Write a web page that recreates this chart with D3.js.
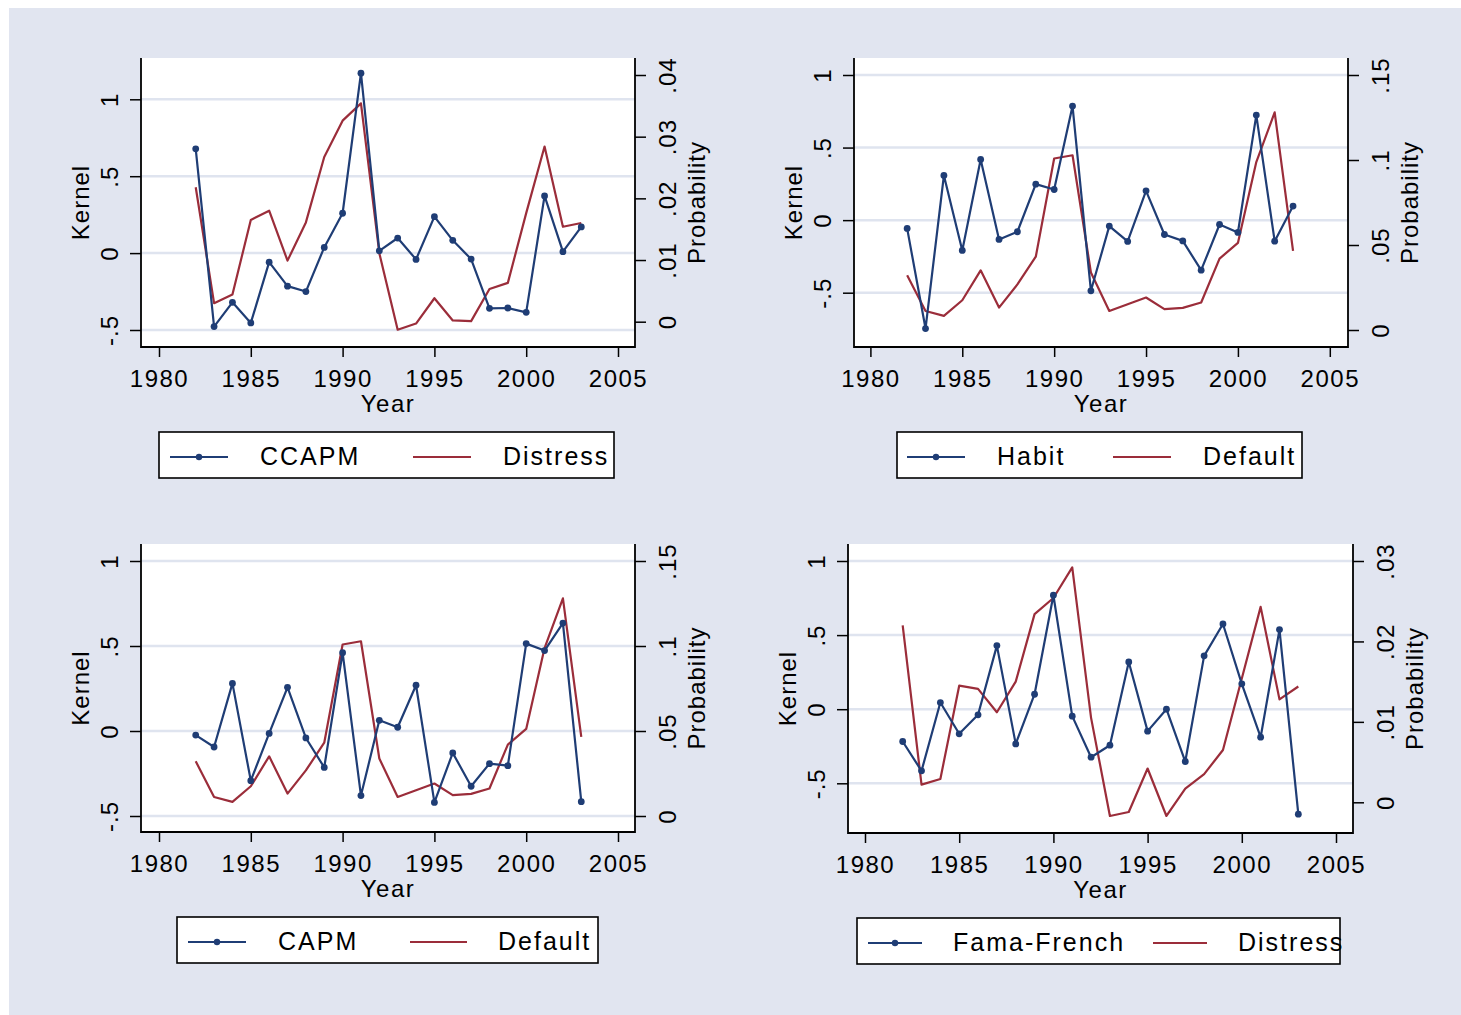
<!DOCTYPE html>
<html><head><meta charset="utf-8">
<script src="https://cdn.jsdelivr.net/npm/d3@7"></script>
<style>
body{margin:0;background:#fff}
text{font-family:"Liberation Sans",Arial,sans-serif;fill:#000}
</style>
</head><body>
<svg id="c" width="1461" height="1015"></svg>
<script>
// ---------- data ----------
const years = [1982,1983,1984,1985,1986,1987,1988,1989,1990,1991,1992,1993,1994,1995,1996,1997,1998,1999,2000,2001,2002,2003];
const xTicks = [1980,1985,1990,1995,2000,2005];
const kernelTicks = [-0.5,0,0.5,1];
const probTicksA = [0,0.01,0.02,0.03,0.04];
const probTicksB = [0,0.05,0.1,0.15];
const probTicksC = [0,0.01,0.02,0.03];

const ccapm = [0.678,-0.478,-0.32,-0.454,-0.059,-0.215,-0.25,0.037,0.259,1.17,0.015,0.098,-0.041,0.237,0.083,-0.039,-0.359,-0.357,-0.385,0.372,0.009,0.17];
const distressA = [0.0218,0.0030,0.0044,0.0165,0.0180,0.0099,0.0161,0.0267,0.0326,0.0354,0.0111,-0.0013,-0.0003,0.0038,0.0002,0.0001,0.0053,0.0063,0.0176,0.0284,0.0154,0.0160];

const habit = [-0.057,-0.747,0.308,-0.209,0.418,-0.133,-0.080,0.248,0.211,0.786,-0.487,-0.041,-0.147,0.202,-0.099,-0.143,-0.345,-0.030,-0.085,0.724,-0.145,0.097];
const defaultProb = [0.0322,0.0112,0.0083,0.0175,0.0351,0.0132,0.0268,0.0431,0.1009,0.1028,0.0338,0.0112,0.0152,0.0191,0.0123,0.0130,0.0162,0.0420,0.0512,0.0988,0.1280,0.0466];

const capm = [-0.024,-0.094,0.280,-0.292,-0.014,0.257,-0.041,-0.214,0.461,-0.380,0.063,0.022,0.269,-0.420,-0.129,-0.325,-0.192,-0.204,0.514,0.473,0.635,-0.416];

const famaFrench = [-0.218,-0.416,0.045,-0.166,-0.038,0.429,-0.234,0.101,0.769,-0.047,-0.324,-0.243,0.319,-0.148,0.0,-0.353,0.36,0.575,0.171,-0.189,0.537,-0.708];
const distressB = [0.0220,0.0022,0.0029,0.0145,0.0141,0.0112,0.0150,0.0234,0.0254,0.0292,0.0105,-0.0017,-0.0012,0.0042,-0.0017,0.0017,0.0035,0.0065,0.0154,0.0243,0.0128,0.0144];

const kernelNames = ["CCAPM","Habit","CAPM","Fama-French"];
const probNames = ["Distress","Default","Default","Distress"];

// ---------- styling / layout ----------
const BLUE = "#1f3d75", RED = "#9b2d3a", GRID = "#dfe4ef", BG = "#e1e5f0";
const FONT = 24;

const panels = [
  {k:ccapm, p:distressA, pt:probTicksA, pTop:0.04, L:141,R:635,T:58,B:347, x0:159,x1:618, k1:99.3,kN:330, pTopY:75, p0Y:321.7,
   lg:{L:159,W:455,a:[170,228],ta:260,b:[413,471],tb:503}},
  {k:habit, p:defaultProb, pt:probTicksB, pTop:0.15, L:854,R:1348,T:58,B:347, x0:870.4,x1:1329.8, k1:75,kN:292.7, pTopY:75, p0Y:330,
   lg:{L:897,W:405,a:[907,965],ta:997,b:[1113,1171],tb:1203}},
  {k:capm, p:defaultProb, pt:probTicksB, pTop:0.15, L:141,R:635,T:544,B:832, x0:159,x1:618, k1:561,kN:816, pTopY:561, p0Y:816,
   lg:{L:177,W:421,a:[188,246],ta:278,b:[410,467],tb:498}},
  {k:famaFrench, p:distressB, pt:probTicksC, pTop:0.03, L:848,R:1353,T:544,B:833, x0:865,x1:1336, k1:561,kN:783.3, pTopY:561, p0Y:802.3,
   lg:{L:857,W:483,a:[868,922],ta:953,b:[1153,1207],tb:1238}}
];

const fmt = v => v === 0 ? "0" : String(+v.toFixed(4)).replace("0.", ".");

const svg = d3.select("#c");
svg.append("rect").attr("x",9).attr("y",8).attr("width",1461-9).attr("height",1015-8).attr("fill",BG);

panels.forEach((P, i) => {
  const g = svg.append("g");
  const x = d3.scaleLinear().domain([1980,2005]).range([P.x0,P.x1]);
  const yk = d3.scaleLinear().domain([-0.5,1]).range([P.kN,P.k1]);
  const yp = d3.scaleLinear().domain([0,P.pTop]).range([P.p0Y,P.pTopY]);

  g.append("rect").attr("x",P.L).attr("y",P.T).attr("width",P.R-P.L).attr("height",P.B-P.T).attr("fill","#fff");

  // gridlines
  g.selectAll(".grid").data(kernelTicks).enter().append("line")
    .attr("x1",P.L).attr("x2",P.R).attr("y1",d=>yk(d)).attr("y2",d=>yk(d))
    .attr("stroke",GRID).attr("stroke-width",2.5);

  // axes
  const styleAxis = sel => {
    sel.attr("font-size",FONT).attr("font-family",'"Liberation Sans",Arial,sans-serif');
    sel.select(".domain").remove();
    sel.selectAll(".tick line").attr("stroke","#000").attr("stroke-width",1.5);
    sel.selectAll(".tick text").attr("fill","#000");
  };

  const ax = g.append("g").attr("transform",`translate(0,${P.B})`)
    .call(d3.axisBottom(x).tickValues(xTicks).tickSize(10).tickFormat(d3.format("d")));
  styleAxis(ax);
  ax.selectAll(".tick text").attr("y",23).attr("dy","0.71em").attr("letter-spacing","1.5px");

  const al = g.append("g").attr("transform",`translate(${P.L},0)`)
    .call(d3.axisLeft(yk).tickValues(kernelTicks).tickSize(11).tickFormat(fmt));
  styleAxis(al);
  al.selectAll(".tick text").attr("x",null).attr("dy","0.36em").attr("text-anchor","middle")
    .attr("transform","translate(-32,0) rotate(-90)").attr("letter-spacing","1px");

  const ar = g.append("g").attr("transform",`translate(${P.R},0)`)
    .call(d3.axisRight(yp).tickValues(P.pt).tickSize(11).tickFormat(fmt));
  styleAxis(ar);
  ar.selectAll(".tick text").attr("x",null).attr("dy","0.36em").attr("text-anchor","middle")
    .attr("transform","translate(32,0) rotate(-90)").attr("letter-spacing","1px");

  // frame (left, bottom, right)
  g.append("path").attr("d",`M${P.L},${P.T}V${P.B}H${P.R}V${P.T}`)
    .attr("fill","none").attr("stroke","#000").attr("stroke-width",1.8);

  // titles
  const cy = (P.T+P.B)/2;
  g.append("text").attr("transform",`translate(${P.L-61},${cy}) rotate(-90)`).attr("dy","0.36em")
    .attr("text-anchor","middle").attr("font-size",FONT).attr("letter-spacing","1px").text("Kernel");
  g.append("text").attr("transform",`translate(${P.R+61},${cy}) rotate(-90)`).attr("dy","0.36em")
    .attr("text-anchor","middle").attr("font-size",FONT).attr("letter-spacing","1px").text("Probability");
  g.append("text").attr("x",(P.L+P.R)/2).attr("y",P.B+65).attr("text-anchor","middle")
    .attr("font-size",FONT).attr("letter-spacing","1.5px").text("Year");

  // series
  const kData = years.map((yr,j)=>({yr,v:P.k[j]}));
  const pData = years.map((yr,j)=>({yr,v:P.p[j]}));
  g.append("path").datum(pData)
    .attr("d",d3.line().x(d=>x(d.yr)).y(d=>yp(d.v)))
    .attr("fill","none").attr("stroke",RED).attr("stroke-width",2.2).attr("stroke-linejoin","round");
  g.append("path").datum(kData)
    .attr("d",d3.line().x(d=>x(d.yr)).y(d=>yk(d.v)))
    .attr("fill","none").attr("stroke",BLUE).attr("stroke-width",2.2).attr("stroke-linejoin","round");
  g.selectAll(".pt").data(kData).enter().append("circle")
    .attr("cx",d=>x(d.yr)).attr("cy",d=>yk(d.v)).attr("r",3.4).attr("fill",BLUE);

  // legend
  const lg = P.lg, lt = P.B + 85, lh = 46, ly = lt + 25;
  g.append("rect").attr("x",lg.L).attr("y",lt).attr("width",lg.W).attr("height",lh)
    .attr("fill","#fff").attr("stroke","#000").attr("stroke-width",1.6);
  g.append("line").attr("x1",lg.a[0]).attr("x2",lg.a[1]).attr("y1",ly).attr("y2",ly)
    .attr("stroke",BLUE).attr("stroke-width",2.2);
  g.append("circle").attr("cx",(lg.a[0]+lg.a[1])/2).attr("cy",ly).attr("r",3.2).attr("fill",BLUE);
  g.append("text").attr("x",lg.ta).attr("y",lt+33).attr("font-size",25).attr("letter-spacing","2px").text(kernelNames[i]);
  g.append("line").attr("x1",lg.b[0]).attr("x2",lg.b[1]).attr("y1",ly).attr("y2",ly)
    .attr("stroke",RED).attr("stroke-width",2.2);
  g.append("text").attr("x",lg.tb).attr("y",lt+33).attr("font-size",25).attr("letter-spacing","2px").text(probNames[i]);
});
</script>
</body></html>
